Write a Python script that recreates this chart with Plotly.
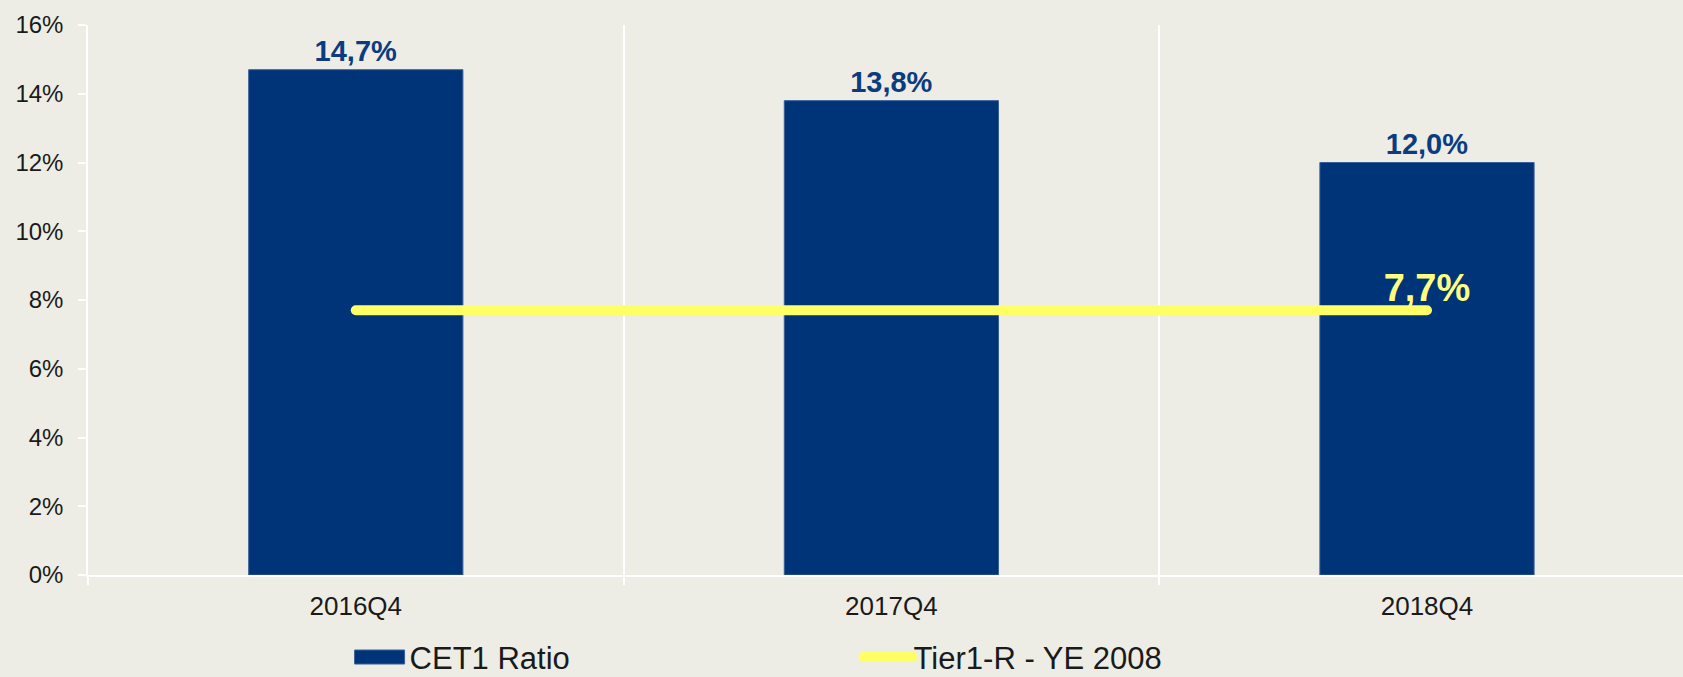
import plotly.graph_objects as go

categories = ["2016Q4", "2017Q4", "2018Q4"]
cet1_ratio = [14.7, 13.8, 12.0]
tier1_ye2008 = [7.7, 7.7, 7.7]
cet1_labels = ["14,7%", "13,8%", "12,0%"]
tier1_labels = ["", "", "7,7%"]
y_ticks = [0, 2, 4, 6, 8, 10, 12, 14, 16]
y_tick_text = ["0%", "2%", "4%", "6%", "8%", "10%", "12%", "14%", "16%"]

BG = "#EDEDE5"
NAVY = "#003479"
YELLOW = "#FFFF66"
FONT = "Liberation Sans, Arial, sans-serif"
LEG_W = 50

fig = go.Figure()
fig.add_trace(go.Bar(
    x=categories, y=cet1_ratio, name="CET1 Ratio",
    marker=dict(color=NAVY, line=dict(color="#3A5F9A", width=1)),
    width=0.4,
    text=cet1_labels, textposition="outside", cliponaxis=False,
    textfont=dict(family=FONT, size=29, color="#0B3C80", weight="bold"),
))
fig.add_trace(go.Scatter(
    x=categories, y=tier1_ye2008, name="Tier1-R - YE 2008",
    mode="lines+text",
    line=dict(color=YELLOW, width=10),
    text=tier1_labels, textposition="top center", cliponaxis=False,
    textfont=dict(family=FONT, size=38, color="#FFFF80", weight="bold"),
))

fig.update_layout(
    width=1683, height=677,
    margin=dict(l=88, r=0, t=25, b=102, autoexpand=False),
    paper_bgcolor=BG, plot_bgcolor=BG,
    font=dict(family=FONT, color="#1a1a1a"),
    showlegend=True,
    legend=dict(
        orientation="h", x=0.164, xanchor="left",
        yref="container", y=0.029, yanchor="middle",
        font=dict(size=31, color="#1a1a1a"), bgcolor="rgba(0,0,0,0)",
        entrywidth=439, itemwidth=LEG_W, traceorder="normal",
    ),
)
fig.update_xaxes(
    type="category", range=[-0.5, 2.478],
    showline=True, linecolor="white", linewidth=2,
    showgrid=True, gridcolor="white", gridwidth=1.5,
    tickson="boundaries", ticks="outside", ticklen=8, tickcolor="white", tickwidth=1.5,
    tickfont=dict(size=26, color="#1a1a1a"),
    ticklabelstandoff=7, automargin=False,
    zeroline=False,
)
fig.update_yaxes(
    range=[0, 16], tickmode="array", tickvals=y_ticks, ticktext=y_tick_text,
    showline=True, linecolor="white", linewidth=1.5,
    showgrid=False, zeroline=False,
    ticks="outside", ticklen=8, tickcolor="white", tickwidth=1.5,
    tickfont=dict(size=24, color="#1a1a1a"),
    ticklabelstandoff=10, automargin=False,
)

post = """
document.body.style.margin = '0';
document.body.style.overflow = 'hidden';
var gd = document.getElementById('{plot_id}');
function tweak() {
  gd.querySelectorAll('.scatterlayer .js-line').forEach(function(p){
    p.style.strokeLinecap = 'round';
  });
  gd.querySelectorAll('.legend .traces').forEach(function(t){
    var bp = t.querySelector('.legendpoints path.legendundefined');
    if (bp) { bp.setAttribute('d', 'M-%d,-7h%dv14h-%dz'); }
    var lp = t.querySelector('.legendlines path');
    if (lp && !lp.dataset.done) {
      var m = (lp.getAttribute('d') || '').match(/M([-\\d.]+),([-\\d.]+)h([-\\d.]+)/);
      if (m) {
        var end = (+m[1]) + (+m[3]) + 4;
        lp.setAttribute('d', 'M' + (end - 49) + ',' + m[2] + 'h49');
        lp.style.strokeLinecap = 'round';
        lp.dataset.done = '1';
      }
    }
  });
}
tweak();
gd.on('plotly_afterplot', tweak);
""" % (LEG_W // 2, LEG_W, LEG_W)

fig.write_html("out.html", post_script=post, config={"displayModeBar": False})
